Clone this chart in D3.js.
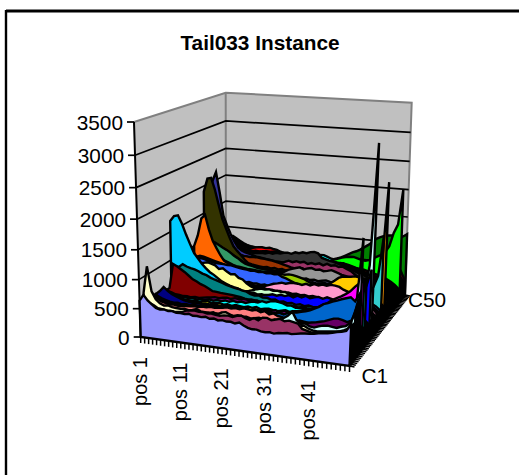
<!DOCTYPE html>
<html><head><meta charset="utf-8">
<script src="https://cdn.jsdelivr.net/npm/d3@7"></script>
<style>html,body{margin:0;padding:0;background:#fff}svg{display:block}text{font-family:"Liberation Sans",Arial,sans-serif;fill:#000}</style>
</head><body><svg id="c" width="519" height="475"></svg>
<script>
const title="Tail033 Instance";
const yTicks=[0,500,1000,1500,2000,2500,3000,3500];
const colors=["#9999FF","#993366","#FFFFCC","#CCFFFF","#660066","#FF8080","#0066CC","#CCCCFF","#000080","#FF00FF","#FFFF00","#00FFFF","#800080","#800000","#008080","#0000FF","#00CCFF","#CCFFFF","#CCFFCC","#FFFF99","#99CCFF","#FF99CC","#CC99FF","#FFCC99","#3366FF","#33CCCC","#99CC00","#FFCC00","#FF9900","#FF6600","#666699","#969696","#003366","#339966","#003300","#333300","#993300","#993366","#333399","#333333","#000000","#FFFFFF","#FF0000","#00FF00","#0000FF","#FFFF00","#FF00FF","#00FFFF","#800000","#008000"];
const c1=[640,750,660,600,550,530,540,520,530,510,515,505,520,495,500,490,505,480,495,470,485,470,475,455,480,440,410,395,400,380,375,385,370,390,395,410,400,415,430,440,445,455,470,480,490,510,530,545,570,690];
const c2=[600,640,590,560,520,510,500,505,495,500,510,540,555,560,545,550,535,545,530,525,540,545,530,560,575,540,520,560,530,585,590,560,580,600,570,590,575,560,480,460,440,450,460,470,480,490,510,530,540,620];
const c3=[730,1190,770,640,580,550,560,540,535,530,540,525,535,560,530,525,520,540,515,555,570,540,510,530,500,520,490,510,480,500,470,490,480,495,470,500,490,480,510,470,450,440,450,460,470,480,490,520,560,640];
const c4=[520,700,560,520,490,470,480,460,470,450,465,445,460,470,455,460,450,465,445,470,460,475,455,480,465,470,460,480,500,470,480,520,500,560,610,690,560,500,520,480,470,500,520,530,520,510,540,560,620,800];
const c5=[500,620,540,500,480,470,475,460,470,455,465,450,470,460,455,465,450,470,460,480,470,465,485,470,480,460,470,490,475,465,480,470,490,480,500,480,510,490,500,520,530,550,570,600,630,640,625,600,640,880];
const c6=[540,640,570,530,510,495,505,490,500,505,510,520,515,530,525,545,535,550,555,570,560,575,565,590,580,570,590,560,585,540,565,530,520,495,510,480,500,490,480,470,490,480,510,520,500,530,540,560,620,980];
const c7=[520,620,560,520,500,490,495,480,490,485,500,490,505,495,510,500,515,505,500,520,510,525,515,530,520,500,515,530,540,525,545,560,540,575,590,600,620,640,665,700,740,795,820,855,880,910,935,960,900,1040];
const c8=[500,560,530,510,490,480,490,470,485,470,490,475,495,480,490,470,500,480,475,490,500,480,495,510,485,500,490,505,480,495,510,490,520,500,530,510,545,530,560,540,520,540,560,600,620,640,660,700,820,1900];
const c9=[570,630,710,650,600,570,545,520,505,495,490,500,480,490,475,495,470,485,460,480,470,490,460,475,495,470,485,500,480,495,470,500,490,510,480,520,500,530,510,550,540,580,560,600,620,650,640,620,560,430];
const c10=[500,560,520,490,480,470,485,470,480,470,490,475,480,470,490,475,465,485,470,480,495,470,485,460,490,470,500,480,495,510,490,520,500,530,540,560,550,590,620,660,700,740,800,840,880,925,980,1060,1130,1180];
const c11=[490,540,510,490,480,470,480,475,470,480,470,490,505,470,480,490,470,485,465,490,480,470,490,475,500,470,485,495,480,470,490,505,480,500,515,490,520,540,530,510,500,520,540,560,540,520,500,480,440,360];
const c12=[510,590,540,510,495,480,490,480,490,475,495,480,505,490,510,500,520,505,530,515,535,520,545,560,555,585,570,600,615,605,590,560,570,540,555,530,550,540,530,520,520,540,560,560,540,560,600,680,820,1190];
const c13=[500,540,520,495,490,480,485,475,490,480,495,505,515,530,520,535,545,530,555,545,560,550,565,555,540,525,535,510,520,500,510,490,505,480,500,490,520,505,510,490,500,480,500,520,500,480,490,470,420,350];
const c14=[510,570,1010,975,930,885,830,775,745,705,680,645,605,600,590,585,580,575,565,555,540,530,520,535,510,500,520,495,515,490,505,485,510,495,520,500,505,490,500,480,490,500,480,510,490,470,480,450,410,340];
const c15=[480,540,950,940,1000,965,945,930,905,870,850,815,790,770,745,720,700,680,670,650,640,605,590,600,570,575,550,560,530,545,520,535,510,530,505,525,510,515,500,490,480,500,470,490,510,480,470,440,400,330];
const c16=[480,520,700,800,830,740,710,690,670,650,630,620,600,610,590,595,575,590,570,585,565,580,560,575,590,600,620,605,630,615,640,610,650,625,660,630,655,670,645,680,660,640,620,600,620,640,680,760,960,1230];
const c17=[1690,1780,1800,1660,1480,1320,1170,1080,990,920,860,820,770,720,690,660,640,625,600,590,570,585,560,575,550,570,545,560,535,550,530,545,525,540,550,530,520,540,510,490,500,480,510,490,470,500,480,450,400,330];
const c18=[480,520,560,580,570,560,550,540,560,540,545,530,540,520,530,510,520,505,515,500,510,495,520,500,530,510,525,505,535,515,530,510,540,520,535,550,530,540,520,510,520,500,530,520,540,530,560,760,1250,3200];
const c19=[500,540,600,620,610,600,590,580,590,570,555,540,545,525,530,520,535,525,540,550,575,600,620,610,625,605,615,600,610,570,560,535,545,520,530,510,535,520,510,490,470,490,480,460,490,470,450,430,390,320];
const c20=[800,850,880,880,900,920,930,940,960,940,920,860,880,830,790,800,740,720,660,615,590,575,560,540,555,530,545,525,540,520,530,510,535,515,540,525,520,505,500,490,480,470,490,460,480,470,450,430,380,320];
const c21=[750,800,820,830,820,800,790,780,770,750,740,720,700,680,670,660,650,630,620,600,590,575,585,560,570,550,565,540,555,535,550,530,545,525,540,530,515,500,490,480,460,490,470,480,460,470,440,420,380,320];
const c22=[720,760,790,790,780,760,745,710,690,670,650,640,625,615,600,590,585,575,570,565,560,580,600,625,655,670,690,680,700,710,705,690,720,700,730,715,740,725,750,745,730,690,665,640,600,560,520,480,420,340];
const c23=[700,750,780,780,770,750,720,690,665,640,620,610,595,580,590,570,580,560,575,555,570,550,565,545,560,540,555,535,550,530,545,525,540,520,535,545,530,520,510,500,480,500,470,490,480,460,440,410,370,320];
const c24=[720,770,800,800,790,770,740,710,680,650,640,620,610,590,600,580,570,585,565,575,555,570,550,565,545,555,540,550,530,545,525,540,520,535,550,530,515,500,490,480,470,490,480,460,480,450,430,410,370,310];
const c25=[780,820,860,880,900,890,870,850,840,840,835,825,830,815,800,790,780,770,775,760,770,755,765,750,760,720,700,670,640,620,600,585,570,580,560,575,555,570,550,535,520,500,480,500,470,490,450,420,380,320];
const c26=[760,800,820,820,810,790,770,750,730,720,710,700,690,680,670,660,650,640,630,620,610,600,590,605,585,595,575,590,570,585,565,580,560,575,590,570,560,540,520,510,500,480,510,490,510,540,600,700,900,1600];
const c27=[760,800,830,820,810,790,770,750,730,710,700,685,670,660,645,640,625,610,615,600,610,640,680,705,720,715,730,725,710,690,670,630,600,585,600,580,595,575,570,550,540,520,500,510,490,480,460,430,380,320];
const c28=[780,830,850,840,820,800,780,760,740,720,710,690,675,655,650,630,620,610,600,595,590,605,585,600,580,595,575,590,570,585,565,580,560,590,570,600,625,680,740,770,780,785,800,790,740,620,520,460,390,320];
const c29=[770,820,850,840,820,800,780,760,740,720,700,680,670,650,640,630,615,605,600,590,585,600,580,595,575,590,570,585,565,580,560,575,555,570,585,565,550,540,530,520,520,540,500,520,540,560,620,720,1000,2440];
const c30=[1000,1200,1520,1590,1330,1130,1000,880,780,740,700,680,660,650,630,620,610,600,590,585,575,590,570,585,560,575,555,570,550,565,545,560,540,555,570,550,530,520,510,500,500,520,490,510,490,470,450,420,380,310];
const c31=[800,900,950,900,850,800,760,720,690,660,650,640,630,620,610,600,595,590,585,580,600,610,590,605,585,600,580,595,575,590,570,585,565,580,595,575,560,540,530,520,510,490,500,480,490,470,450,420,370,310];
const c32=[780,880,930,880,830,790,750,710,680,650,640,630,620,610,605,600,595,590,585,580,600,610,630,645,690,715,740,760,730,755,770,745,760,735,750,770,745,720,680,620,560,520,500,510,490,470,450,420,370,310];
const c33=[800,900,950,900,840,790,750,710,680,650,630,620,610,600,595,590,585,580,590,585,610,620,600,615,595,610,590,605,585,600,580,595,575,590,605,585,560,540,530,520,510,490,500,480,470,480,450,420,370,300];
const c34=[1050,1150,1030,1040,1010,970,930,895,850,800,760,710,670,650,640,620,610,605,600,590,580,600,590,605,585,600,580,595,575,590,570,585,600,615,595,620,610,600,580,560,540,510,500,490,480,470,440,410,370,300];
const c35=[900,1000,980,980,960,920,880,850,800,760,720,680,640,620,610,600,590,585,580,575,570,590,585,600,590,605,585,600,580,595,590,605,620,605,630,615,600,580,560,540,520,500,510,490,480,470,440,410,360,300];
const c36=[1900,2140,2160,1950,1680,1420,1250,1080,930,850,780,700,640,620,610,600,590,605,585,600,580,595,575,590,570,585,565,580,560,575,590,605,590,620,600,630,615,590,570,540,510,520,490,500,480,470,440,400,360,300];
const c37=[900,1100,1150,1050,950,880,830,790,770,750,740,745,735,740,745,735,730,720,710,695,680,660,640,620,610,600,625,590,610,580,600,575,590,570,585,600,580,570,550,530,520,500,490,500,480,460,430,400,360,300];
const c38=[1000,1200,1250,1100,1000,900,850,800,760,740,720,710,690,670,660,650,640,630,620,640,660,690,720,700,725,710,730,695,720,705,730,700,735,710,725,700,715,680,650,600,540,520,510,500,480,460,430,400,350,290];
const c39=[1700,2050,2220,1850,1430,1250,1090,960,850,800,770,750,730,710,700,690,680,670,660,655,650,665,645,660,640,655,635,650,630,645,625,640,620,635,650,630,600,580,560,540,530,510,500,490,480,460,430,400,350,290];
const c40=[1100,1300,1250,1100,970,880,820,780,760,745,740,755,750,760,770,765,790,775,800,795,815,825,810,845,835,860,850,880,890,870,790,770,750,740,720,700,680,650,620,590,560,540,520,510,490,470,440,400,350,290];
const c41=[1000,1150,1100,1000,920,880,850,820,800,780,770,760,775,770,780,790,785,800,810,790,780,770,760,750,745,755,740,750,730,740,720,730,710,700,690,680,660,640,610,590,570,550,530,510,490,470,440,400,350,280];
const c42=[900,1050,1220,1120,1030,930,820,790,770,760,750,740,730,745,725,735,720,730,715,725,710,720,705,715,700,710,695,705,690,700,685,695,680,690,675,685,660,640,610,590,570,550,530,510,490,470,440,400,350,280];
const c43=[860,960,1000,950,900,860,830,800,780,770,775,790,805,810,800,815,800,790,760,740,720,700,715,695,705,685,695,680,690,670,680,660,670,655,665,650,640,620,600,590,580,560,540,520,500,480,440,400,350,280];
const c44=[800,920,960,900,850,810,780,760,745,730,720,710,700,690,685,680,670,665,660,650,645,655,640,650,635,645,630,640,625,635,640,660,690,720,745,765,775,780,760,740,730,750,790,830,870,930,1050,1300,1460,2090];
const c45=[760,880,920,870,820,780,750,730,715,700,690,680,670,660,655,650,640,635,630,620,615,625,610,620,605,615,600,610,595,605,590,600,620,610,630,640,620,635,615,625,600,620,640,660,680,700,660,560,430,320];
const c46=[750,860,900,850,800,760,730,710,700,690,680,670,660,650,645,640,630,625,620,615,605,615,600,610,595,605,590,600,585,595,580,590,575,600,590,575,585,570,590,600,590,610,620,640,650,640,600,520,420,310];
const c47=[730,840,880,830,780,740,710,695,680,670,660,650,640,630,625,620,610,605,600,590,585,595,580,590,575,600,610,615,620,595,580,590,570,585,565,580,560,575,590,600,580,600,620,640,650,640,600,510,410,310];
const c48=[710,820,860,810,770,730,700,680,670,660,650,640,630,625,615,610,600,595,590,610,620,630,640,645,650,640,655,660,665,640,610,600,590,580,590,575,585,570,590,600,580,600,620,630,650,630,590,500,400,310];
const c49=[690,800,840,800,760,720,690,670,660,650,640,630,620,610,605,600,595,590,585,580,575,585,570,580,565,575,560,570,555,565,550,560,545,555,565,580,600,620,630,630,640,660,680,700,720,740,700,620,480,320];
const c50=[680,780,820,780,740,700,670,650,640,630,620,610,600,590,585,580,575,570,565,560,555,565,550,560,545,555,540,550,535,545,560,580,610,650,690,730,760,800,850,900,960,1030,1070,1100,1120,1130,1120,1100,1130,1180];
const seriesValues=[c1,c2,c3,c4,c5,c6,c7,c8,c9,c10,c11,c12,c13,c14,c15,c16,c17,c18,c19,c20,c21,c22,c23,c24,c25,c26,c27,c28,c29,c30,c31,c32,c33,c34,c35,c36,c37,c38,c39,c40,c41,c42,c43,c44,c45,c46,c47,c48,c49,c50];
const seriesNames=d3.range(1,51).map(i=>"C"+i);
const positions=d3.range(1,51).map(i=>"pos "+i);

const floorQ=[[140.7,337],[349.5,366],[405,295],[226,275]];
const ceilQ=[[134,122],[359,136],[411.7,102.7],[225.7,92.7]];
function homography(q){
  const [a,b,c,d]=q;
  const dx1=b[0]-c[0],dx2=d[0]-c[0],sx=a[0]-b[0]+c[0]-d[0];
  const dy1=b[1]-c[1],dy2=d[1]-c[1],sy=a[1]-b[1]+c[1]-d[1];
  const den=dx1*dy2-dx2*dy1;
  const g=(sx*dy2-dx2*sy)/den,h=(dx1*sy-sx*dy1)/den;
  const A=b[0]-a[0]+g*b[0],B=d[0]-a[0]+h*d[0],C=a[0];
  const D=b[1]-a[1]+g*b[1],E=d[1]-a[1]+h*d[1],F=a[1];
  return (u,v)=>{const w=g*u+h*v+1;return [(A*u+B*v+C)/w,(D*u+E*v+F)/w];};
}
const hF=homography(floorQ),hC=homography(ceilQ);
const uS=d3.scalePoint().domain(positions).range([0,1]);
const vS=d3.scalePoint().domain(seriesNames).range([0,1]);
const yS=d3.scaleLinear().domain([0,3500]).range([0,1]);
const K=0.91;
function proj(u,v,val){
  const t0=yS(val),t=t0*K/(1-t0+t0*K);
  const f=hF(u,v),c=hC(u,v);
  return [f[0]+(c[0]-f[0])*t,f[1]+(c[1]-f[1])*t];
}
const svg=d3.select("#c");
svg.append("line").attr("x1",6).attr("x2",519).attr("y1",9.5).attr("y2",9.5).attr("stroke","#808080").attr("stroke-width",1);
svg.append("path").attr("d","M6,475V11.2H519").attr("fill","none").attr("stroke","#000").attr("stroke-width",2.4);
svg.append("text").attr("x",260).attr("y",49.5).attr("text-anchor","middle").attr("font-weight","bold").attr("font-size",20.8).text(title);
const wallEdge="#808080";
const poly=p=>"M"+p.map(q=>q.join(",")).join("L")+"Z";
svg.append("path").attr("d",poly([proj(0,0,0),proj(0,0,3500),proj(0,1,3500),proj(0,1,0)])).attr("fill","#C0C0C0");
svg.append("path").attr("d",poly([proj(0,1,0),proj(0,1,3500),proj(1,1,3500),proj(1,1,0)])).attr("fill","#C0C0C0");
svg.append("path").attr("d","M"+[proj(0,0,3500),proj(0,1,3500),proj(1,1,3500),proj(1,1,0)].map(q=>q.join(",")).join("L")+"M"+[proj(0,1,3500),proj(0,1,0)].map(q=>q.join(",")).join("L")).attr("fill","none").attr("stroke",wallEdge).attr("stroke-width",2);
yTicks.slice(1,-1).concat([0]).forEach(t=>{
  svg.append("path").attr("d","M"+[proj(0,0,t),proj(0,1,t),proj(1,1,t)].map(q=>q.join(",")).join("L")).attr("fill","none").attr("stroke","#000").attr("stroke-width",1.7);
});
svg.append("line").attr("x1",proj(0,0,0)[0]).attr("y1",proj(0,0,0)[1]).attr("x2",proj(0,0,3500)[0]).attr("y2",proj(0,0,3500)[1]).attr("stroke","#000").attr("stroke-width",2);
yTicks.forEach(t=>{
  const p=proj(0,0,t);
  svg.append("line").attr("x1",p[0]-7).attr("x2",p[0]).attr("y1",p[1]).attr("y2",p[1]).attr("stroke","#000").attr("stroke-width",1.7);
  svg.append("text").attr("x",p[0]-11).attr("y",p[1]+7.5).attr("text-anchor","end").attr("font-size",20.8).text(t);
});
const area=d3.line();
d3.range(49,-1,-1).forEach(i=>{
  const v=vS(seriesNames[i]);
  const pts=seriesValues[i].map((d,j)=>proj(uS(positions[j]),v,d));
  pts.push(proj(1,v,0));pts.push(proj(0,v,0));
  svg.append("path").attr("d",area(pts)+"Z").attr("fill",colors[i]).attr("stroke","#000").attr("stroke-width",2.4).attr("stroke-linejoin","miter").attr("stroke-miterlimit",6);
});
positions.forEach((p,j)=>{
  const a=proj(uS(p),0,0);
  svg.append("line").attr("x1",a[0]).attr("y1",a[1]).attr("x2",a[0]).attr("y2",a[1]+6).attr("stroke","#000").attr("stroke-width",1.5);
  if(j%10===0){
    svg.append("text").attr("transform",`translate(${a[0]+6},${a[1]+20}) rotate(-90)`).attr("text-anchor","end").attr("font-size",20).text(p);
  }
});
seriesNames.forEach(s=>{
  const a=proj(1,vS(s),0);
  svg.append("line").attr("x1",a[0]).attr("y1",a[1]).attr("x2",a[0]+5).attr("y2",a[1]+1).attr("stroke","#000").attr("stroke-width",1.5);
});
const c1p=proj(1,0,0),c50p=proj(1,1,0);
svg.append("text").attr("x",c1p[0]+12).attr("y",c1p[1]+16.5).attr("font-size",20.8).text("C1");
svg.append("text").attr("x",c50p[0]+3).attr("y",c50p[1]+12).attr("font-size",20.8).text("C50");
</script></body></html>
